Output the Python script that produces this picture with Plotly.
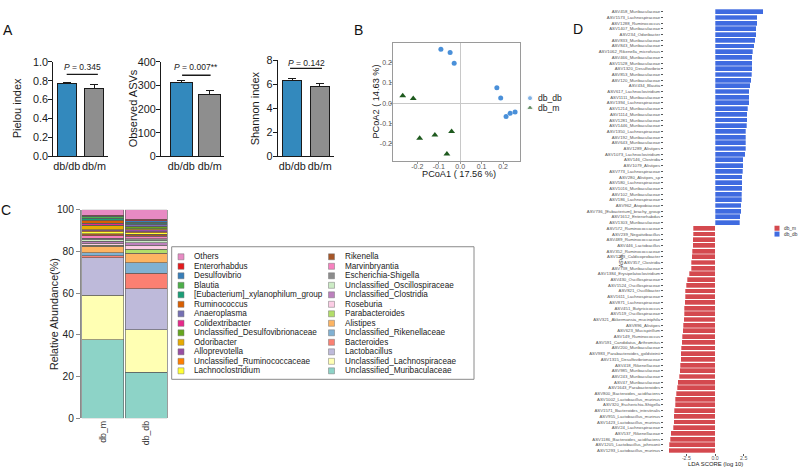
import plotly.graph_objects as go

W, H = 799, 474
FONT = "Arial, 'Liberation Sans', sans-serif"

# ---------------- Panel A data ----------------
groups_a = ["db/db", "db/m"]
pielou = [0.77, 0.72]
pielou_err = [0.01, 0.04]
observed = [313, 263]
observed_err = [10, 16]
shannon = [6.35, 5.80]
shannon_err = [0.13, 0.30]
p_values = ["0.345", "0.007**", "0.142"]
pielou_ticks = [0.0, 0.2, 0.4, 0.6, 0.8, 1.0]
observed_ticks = [0, 100, 200, 300, 400]
shannon_ticks = [0, 2, 4, 6, 8]
colors_a = ["#3389BD", "#8E8E8E"]

# ---------------- Panel B data ----------------
pc1_db_db = [-0.090, -0.047, -0.028, 0.171, 0.189, 0.214, 0.233, 0.256]
pc2_db_db = [0.267, 0.250, 0.197, 0.076, 0.025, -0.067, -0.051, -0.044]
pc1_db_m = [-0.268, -0.219, -0.189, -0.118, -0.040, -0.062]
pc2_db_m = [0.036, 0.023, -0.174, -0.158, -0.141, -0.252]
pcoa_groups = ["db_db", "db_m"]
pcoa_ticks = [-0.2, -0.1, 0.0, 0.1, 0.2]

# ---------------- Panel C data (bottom -> top) ----------------
samples_c = ["db_m", "db_db"]
taxa = ["Unclassified_Muribaculaceae", "Unclassified_Lachnospiraceae", "Lactobacillus",
        "Bacteroides", "Unclassified_Rikenellaceae", "Alistipes", "Parabacteroides",
        "Roseburia", "Unclassified_Clostridia", "Unclassified_Oscillospiraceae",
        "Escherichia-Shigella", "Marvinbryantia", "Rikenella", "Lachnoclostridium",
        "Unclassified_Ruminococcaceae", "Alloprevotella", "Odoribacter",
        "Unclassified_Desulfovibrionaceae", "Colidextribacter", "Anaeroplasma",
        "Ruminococcus", "[Eubacterium]_xylanophilum_group", "Blautia", "Desulfovibrio",
        "Enterorhabdus", "Others"]
abund_db_m = [37.6, 21.3, 18.2, 0.9, 1.5, 3.0, 0.6, 0.8, 1.0, 0.8, 0.7, 1.2, 0.8, 1.0,
              0.6, 0.5, 1.8, 0.4, 0.5, 0.3, 1.6, 0.9, 0.6, 0.3, 0.5, 2.6]
abund_db_db = [22.0, 20.5, 19.7, 7.3, 5.2, 4.4, 2.0, 1.8, 1.2, 1.3, 0.6, 1.4, 0.8, 0.7,
               0.6, 1.0, 0.5, 0.8, 0.4, 0.8, 0.4, 0.4, 0.3, 0.6, 0.8, 4.5]
taxa_colors = ["#8DD3C7", "#FFFFB3", "#BEBADA", "#FB8072", "#80B1D3", "#FDB462", "#B3DE69",
               "#FCCDE5", "#BC80BD", "#CCEBC5", "#8C8C8C", "#F781BF", "#A65628", "#FFFF33",
               "#FF7F00", "#984EA3", "#E6AB02", "#66A61E", "#E7298A", "#7570B3", "#D95F02",
               "#1B9E77", "#4DAF4A", "#377EB8", "#E41A1C", "#E78AC3"]

# ---------------- Panel D data ----------------
lda_db_db_labels = ["ASV458_Muribaculaceae", "ASV1573_Lachnospiraceae", "ASV1288_Ruminococcus",
    "ASV1407_Muribaculaceae", "ASV234_Odoribacter", "ASV833_Muribaculaceae",
    "ASV843_Muribaculaceae", "ASV1062_Rikenella_microfusus", "ASV466_Muribaculaceae",
    "ASV1528_Muribaculaceae", "ASV1320_Desulfovibrio", "ASV853_Muribaculaceae",
    "ASV120_Muribaculaceae", "ASV434_Blautia", "ASV617_Lachnoclostridium",
    "ASV1111_Muribaculaceae", "ASV1394_Lachnospiraceae", "ASV1214_Muribaculaceae",
    "ASV1114_Muribaculaceae", "ASV1281_Muribaculaceae", "ASV1446_Muribaculaceae",
    "ASV1350_Lachnospiraceae", "ASV192_Muribaculaceae", "ASV643_Muribaculaceae",
    "ASV1289_Alistipes", "ASV1073_Lachnoclostridium", "ASV146_Clostridia",
    "ASV1079_Alistipes", "ASV773_Lachnospiraceae", "ASV280_Alistipes_sp",
    "ASV580_Lachnospiraceae", "ASV1016_Muribaculaceae", "ASV102_Muribaculaceae",
    "ASV186_Lachnospiraceae", "ASV962_Atopobiaceae", "ASV736_[Eubacterium]_brachy_group",
    "ASV1612_Enterorhabdus", "ASV1303_Muribaculaceae"]
lda_db_db = [4.22, 3.69, 3.69, 3.58, 3.58, 3.49, 3.43, 3.31, 3.26, 3.23, 3.23, 3.20, 3.14,
             3.08, 2.97, 2.97, 2.97, 2.85, 2.79, 2.79, 2.76, 2.70, 2.70, 2.67, 2.67, 2.62,
             2.47, 2.47, 2.41, 2.38, 2.38, 2.38, 2.35, 2.35, 2.30, 2.27, 2.21, 2.15]
lda_db_m_labels = ["ASV572_Ruminococcaceae", "ASV239_Negativibacillus", "ASV489_Ruminococcaceae",
    "ASV446_Lactobacillus", "ASV352_Ruminococcaceae", "ASV1203_Caldicoprobacter",
    "ASV357_Clostridia", "ASV738_Muribaculaceae", "ASV1384_Erysipelatoclostridium",
    "ASV430_Oscillospiraceae", "ASV1524_Oscillospiraceae", "ASV821_Oscillibacter",
    "ASV1611_Lachnospiraceae", "ASV871_Lachnospiraceae", "ASV451_Butyricicoccus",
    "ASV519_Oscillospiraceae", "ASV321_Akkermansia_muciniphila", "ASV896_Alistipes",
    "ASV623_Mucispirillum", "ASV149_Ruminococcus", "ASV591_Candidatus_Arthromitus",
    "ASV200_Muribaculaceae", "ASV983_Parabacteroides_goldsteinii", "ASV1315_Desulfovibrionaceae",
    "ASV418_Rikenellaceae", "ASV985_Muribaculaceae", "ASV243_Muribaculaceae",
    "ASV47_Muribaculaceae", "ASV1643_Parabacteroides", "ASV800_Bacteroides_acidifaciens",
    "ASV1002_Lactobacillus_murinus", "ASV320_Escherichia-Shigella",
    "ASV1571_Bacteroides_intestinalis", "ASV955_Lactobacillus_murinus",
    "ASV1423_Lactobacillus_murinus", "ASV24_Lachnospiraceae", "ASV537_Rikenellaceae",
    "ASV1186_Bacteroides_acidifaciens", "ASV1205_Lactobacillus_johnsonii",
    "ASV1293_Lactobacillus_murinus"]
lda_db_m = [-1.89, -1.89, -1.95, -1.95, -2.00, -2.03, -2.06, -2.06, -2.27, -2.41, -2.53,
            -2.59, -2.59, -2.62, -2.67, -2.70, -2.73, -2.76, -2.82, -2.88, -2.91, -2.94,
            -2.97, -2.99, -3.05, -3.08, -3.14, -3.23, -3.31, -3.40, -3.46, -3.49, -3.55,
            -3.58, -3.58, -3.63, -3.87, -3.92, -3.98, -4.04]
lda_ticks = [-2.5, 0.0, 2.5]
lda_groups = ["db_m", "db_db"]
lda_colors = ["#D4494F", "#3F6BE0"]


# ---------------- helpers (pixel -> paper) ----------------
def xd(a, b):
    return [a / W, b / W]


def yd(top, bot):
    return [1 - bot / H, 1 - top / H]


def px(x):
    return x / W


def py(y):
    return 1 - y / H


fig = go.Figure()
annotations = []
shapes = []


def paper_text(text, x, y, size, color="#1a1a1a", angle=0):
    annotations.append(dict(text=text, x=px(x), y=py(y), xref="paper", yref="paper",
                            xanchor="center", yanchor="middle", textangle=angle,
                            showarrow=False, font=dict(size=size, color=color, family=FONT)))


# ---------------- Panel A ----------------
a_specs = [
    ("x", "y", pielou, pielou_err, 0.69, (53.3, 107.7), [-0.49, 1.5], (57.3, 154.3), [0, 1.0],
     pielou_ticks, ["%.1f" % v for v in pielou_ticks]),
    ("x2", "y2", observed, observed_err, 0.78, (161.0, 224.0), [-0.71, 1.5], (57.3, 154.3), [0, 400],
     observed_ticks, [str(v) for v in observed_ticks]),
    ("x3", "y3", shannon, shannon_err, 0.69, (277.7, 333.5), [-0.53, 1.5], (55.7, 154.3), [0, 8],
     shannon_ticks, [str(v) for v in shannon_ticks]),
]
ax_common_a = dict(showgrid=False, zeroline=False, showline=True, linecolor="#1a1a1a",
                   linewidth=1.2, tickfont=dict(size=10.8, color="#1a1a1a", family=FONT))
for xa, ya, vals, errs, bw, xdom, xr, ydom, yr, tv, tt in a_specs:
    fig.add_trace(go.Bar(
        x=groups_a, y=vals, width=bw, xaxis=xa, yaxis=ya,
        marker=dict(color=colors_a, line=dict(color="#1a1a1a", width=1)),
        error_y=dict(type="data", array=errs, arrayminus=[0, 0], symmetric=False,
                     color="#1a1a1a", thickness=1, width=4),
        hoverinfo="skip"))
    xkey = "xaxis" if xa == "x" else "xaxis" + xa[1:]
    ykey = "yaxis" if ya == "y" else "yaxis" + ya[1:]
    fig.layout[xkey] = dict(domain=xd(*xdom), range=xr, anchor=ya, ticks="", tickangle=0,
                            **ax_common_a)
    fig.layout[ykey] = dict(domain=yd(*ydom), range=[yr[0], yr[1] * 1.0005], anchor=xa,
                            ticks="outside", ticklen=4, tickwidth=1.2, tickcolor="#1a1a1a",
                            tickvals=tv, ticktext=tt, ticklabelstandoff=-2, **ax_common_a)

for t, xpos in [("Pielou index", 17), ("Observed ASVs", 133), ("Shannon index", 255)]:
    paper_text(t, xpos, 105, 11, angle=-90)

# P-value brackets (in data coords)
p_specs = [("x", "y", 0.869, 0.95, [0.0, 1.14]),
           ("x2", "y2", 343.5, 380, [0.03, 1.03]),
           ("x3", "y3", 7.33, 7.81, [-0.08, 1.08])]
for (xa, ya, ly, ty, xs), pv in zip(p_specs, p_values):
    shapes.append(dict(type="line", xref=xa, yref=ya, x0=xs[0], x1=xs[1], y0=ly, y1=ly,
                       line=dict(color="#1a1a1a", width=1.3)))
    annotations.append(dict(text="<i>P</i> = " + pv, x=(xs[0] + xs[1]) / 2, y=ty, xref=xa, yref=ya,
                            xanchor="center", yanchor="middle",
                            showarrow=False, font=dict(size=8.5, color="#1a1a1a", family=FONT)))

# ---------------- Panel B ----------------
fig.add_trace(go.Scatter(x=pc1_db_db, y=pc2_db_db, mode="markers", xaxis="x4", yaxis="y4",
                         marker=dict(symbol="circle", size=5, color="#4A90D9"), hoverinfo="skip"))
fig.add_trace(go.Scatter(x=pc1_db_m, y=pc2_db_m, mode="markers", xaxis="x4", yaxis="y4",
                         marker=dict(symbol="triangle-up", size=6, color="#1E5A1E"), hoverinfo="skip"))
b_ax = dict(showgrid=False, showline=True, mirror=True, linecolor="#9a9a9a", linewidth=1,
            zeroline=True, zerolinecolor="#c8c8c8", zerolinewidth=1, ticks="outside", ticklen=2,
            tickcolor="#9a9a9a", tickvals=pcoa_ticks, ticktext=["%.1f" % v for v in pcoa_ticks],
            ticklabelstandoff=-3, tickfont=dict(size=7, color="#555555", family=FONT))
fig.layout["xaxis4"] = dict(domain=xd(393.3, 520), range=[-0.312, 0.279], anchor="y4", **b_ax)
fig.layout["yaxis4"] = dict(domain=yd(38.3, 159), range=[-0.287, 0.296], anchor="x4", **b_ax)
paper_text("PCoA1 ( 17.56 %)", 459, 172, 9.2)
paper_text("PCoA2 ( 14.63 %)", 376, 98, 9.2, angle=-90)

# ---------------- Panel C ----------------
for name, vm, vd, col in zip(taxa, abund_db_m, abund_db_db, taxa_colors):
    fig.add_trace(go.Bar(x=samples_c, y=[vm, vd], width=0.97, xaxis="x5", yaxis="y5", name=name,
                         marker=dict(color=col, line=dict(color="#5a5a5a", width=0.6)),
                         hoverinfo="skip"))
fig.layout["xaxis5"] = dict(domain=xd(81, 168), range=[-0.5, 1.5], anchor="y5", showline=False,
                            ticks="", tickangle=-90, showgrid=False, zeroline=False,
                            tickfont=dict(size=8.7, color="#333333", family=FONT))
fig.layout["yaxis5"] = dict(domain=yd(209, 423), range=[0, 100.05], anchor="x5", showline=True,
                            linecolor="#8a8a8a", linewidth=1, ticks="outside", ticklen=4,
                            tickcolor="#8a8a8a", dtick=20, showgrid=False, zeroline=False,
                            tickfont=dict(size=10.2, color="#222222", family=FONT))
paper_text("Relative Abundance(%)", 54, 316, 10.7, color="#222222", angle=-90)

# ---------------- Panel D ----------------
fig.add_trace(go.Bar(y=lda_db_db_labels, x=lda_db_db, orientation="h", width=0.86,
                     xaxis="x6", yaxis="y6", name=lda_groups[1],
                     marker=dict(color=lda_colors[1], line=dict(color="white", width=0.3)),
                     hoverinfo="skip"))
fig.add_trace(go.Bar(y=lda_db_m_labels, x=lda_db_m, orientation="h", width=0.86,
                     xaxis="x6", yaxis="y6", name=lda_groups[0],
                     marker=dict(color=lda_colors[0], line=dict(color="white", width=0.3)),
                     hoverinfo="skip"))
fig.layout["xaxis6"] = dict(domain=xd(664, 767.2), range=[-4.45, 4.55], anchor="y6",
                            tickvals=lda_ticks, ticktext=["%.1f" % v for v in lda_ticks],
                            ticks="outside", ticklen=2, tickcolor="#555555", showline=False,
                            showgrid=False, zeroline=False, ticklabelstandoff=-3,
                            tickfont=dict(size=5.2, color="#555555", family=FONT))
fig.layout["yaxis6"] = dict(domain=yd(3, 459), anchor="x6", type="category",
                            categoryorder="array",
                            categoryarray=lda_db_db_labels + lda_db_m_labels,
                            autorange="reversed", ticks="outside", ticklen=2,
                            tickcolor="#555555", showline=False, showgrid=False, zeroline=False,
                            tickfont=dict(size=4.3, color="#555555", family=FONT))
paper_text("LDA SCORE (log 10)", 715, 469.5, 5.9, color="#222222")
paper_text("ASVs", 621, 262, 5.2, color="#222222", angle=-90)

# ---------------- Legends (drawn on an overlay pixel axis) ----------------
fig.layout["xaxis7"] = dict(domain=[0, 1], range=[0, W], anchor="y7", visible=False, fixedrange=True)
fig.layout["yaxis7"] = dict(domain=[0, 1], range=[H, 0], anchor="x7", visible=False, fixedrange=True)

# Panel B legend
b_leg_y = [94.5, 104.5]
fig.add_trace(go.Scatter(x=[530, 530], y=b_leg_y, mode="markers", xaxis="x7", yaxis="y7",
                         marker=dict(symbol=["circle", "triangle-up"], size=[5, 6],
                                     color=["#4A90D9", "#1E5A1E"]), hoverinfo="skip"))
for g, yy in zip(pcoa_groups, b_leg_y):
    annotations.append(dict(text=g, x=536, y=yy, xref="x7", yref="y7", xanchor="left",
                            yanchor="middle", showarrow=False,
                            font=dict(size=8.6, color="#222222", family=FONT)))

# Panel C legend (two columns, top entry = top of stack)
rev_taxa = taxa[::-1]
rev_cols = taxa_colors[::-1]
leg_x, leg_y, leg_c = [], [], []
for k, (name, col) in enumerate(zip(rev_taxa, rev_cols)):
    column, row = divmod(k, 13)
    mx = 181 if column == 0 else 331.5
    my = 257.3 + row * 9.75
    leg_x.append(mx)
    leg_y.append(my)
    leg_c.append(col)
    annotations.append(dict(text=name, x=mx + 11, y=my, xref="x7", yref="y7", xanchor="left",
                            yanchor="middle", showarrow=False,
                            font=dict(size=8.2, color="#222222", family=FONT)))
fig.add_trace(go.Scatter(x=leg_x, y=leg_y, mode="markers", xaxis="x7", yaxis="y7",
                         marker=dict(symbol="square", size=6, color=leg_c,
                                     line=dict(color="#777777", width=0.5)), hoverinfo="skip"))
shapes.append(dict(type="rect", xref="paper", yref="paper", x0=px(171.7), x1=px(474),
                   y0=py(383), y1=py(247), line=dict(color="#8a8a8a", width=1)))

# Panel D legend
d_leg_y = [228, 234]
fig.add_trace(go.Scatter(x=[777, 777], y=d_leg_y, mode="markers", xaxis="x7", yaxis="y7",
                         marker=dict(symbol="square", size=5, color=lda_colors), hoverinfo="skip"))
for g, yy in zip(lda_groups, d_leg_y):
    annotations.append(dict(text=g, x=781.5, y=yy, xref="x7", yref="y7", xanchor="left",
                            yanchor="middle", showarrow=False,
                            font=dict(size=4.8, color="#333333", family=FONT)))

# Panel letters
for letter, lx, ly in [("A", 8, 25), ("B", 358, 25), ("C", 6, 209), ("D", 578, 24)]:
    paper_text(letter, lx, ly, 14, color="#111111")

fig.update_layout(width=W, height=H, margin=dict(l=0, r=0, t=0, b=0), showlegend=False,
                  barmode="stack", plot_bgcolor="rgba(0,0,0,0)", paper_bgcolor="white",
                  font=dict(family=FONT), annotations=annotations, shapes=shapes)

fig.write_html("out.html", config={"displayModeBar": False},
               post_script="document.body.style.margin='0';")
